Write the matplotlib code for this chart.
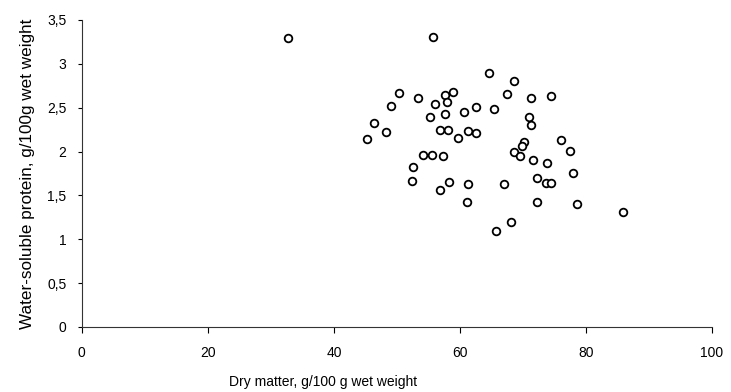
import matplotlib
matplotlib.use("Agg")
import matplotlib.pyplot as plt
from matplotlib.ticker import FuncFormatter

plt.rcParams['font.family'] = ['Liberation Sans', 'DejaVu Sans']

# dry matter (g/100 g wet weight) vs water-soluble protein (g/100 g wet weight)
dry_matter = [32.7, 55.7, 64.6, 68.5, 67.4, 71.2, 74.5, 50.4, 53.3, 49.0,
              56.1, 57.7, 58.9, 58.0, 57.6, 55.2, 60.7, 62.6, 65.4, 70.9,
              71.3, 46.4, 48.2, 45.3, 56.8, 58.1, 59.7, 61.2, 62.5, 76.1,
              77.5, 70.1, 69.8, 68.6, 69.6, 71.6, 73.8, 54.1, 55.6, 57.3,
              52.6, 52.4, 58.2, 56.9, 61.3, 67.0, 72.3, 73.6, 74.4, 77.9,
              61.1, 72.3, 78.5, 85.9, 68.1, 65.7]
protein = [3.30, 3.31, 2.89, 2.80, 2.66, 2.61, 2.63, 2.67, 2.61, 2.52,
           2.54, 2.65, 2.68, 2.57, 2.43, 2.39, 2.45, 2.51, 2.48, 2.39,
           2.30, 2.32, 2.22, 2.14, 2.24, 2.25, 2.16, 2.23, 2.21, 2.13,
           2.01, 2.11, 2.06, 2.00, 1.95, 1.90, 1.87, 1.96, 1.96, 1.95,
           1.82, 1.66, 1.65, 1.56, 1.63, 1.63, 1.70, 1.64, 1.64, 1.75,
           1.43, 1.43, 1.40, 1.31, 1.20, 1.09]

x_ticks = [0, 20, 40, 60, 80, 100]
y_ticks = [0, 0.5, 1, 1.5, 2, 2.5, 3, 3.5]

fig = plt.figure(figsize=(7.31, 3.92), dpi=100)
ax = fig.add_axes([0.112, 0.166, 0.862, 0.783])

ax.plot(dry_matter, protein, 'o', mfc='white', mec='black', ms=5.5, mew=1.3)

ax.set_xlim(0, 100)
ax.set_ylim(0, 3.5)
ax.set_xticks(x_ticks)
ax.set_yticks(y_ticks)
# comma as decimal separator
ax.yaxis.set_major_formatter(FuncFormatter(lambda v, p: ('%g' % v).replace('.', ',')))

for s in ['top', 'right']:
    ax.spines[s].set_visible(False)
for s in ['left', 'bottom']:
    ax.spines[s].set_linewidth(0.8)
    ax.spines[s].set_color('#333333')

ax.tick_params(axis='y', length=3, width=0.8, pad=8, labelsize=10)
ax.tick_params(axis='x', length=4, width=0.8, pad=10, labelsize=10)

ax.set_xlabel("Dry matter, g/100 g wet weight", fontsize=10, labelpad=11)
ax.xaxis.set_label_coords(0.383, -0.155)  # label sits left of centre in the original
ax.set_ylabel("Water-soluble protein, g/100g wet weight", fontsize=12.3, labelpad=9)

fig.savefig("out.png", dpi=100)
